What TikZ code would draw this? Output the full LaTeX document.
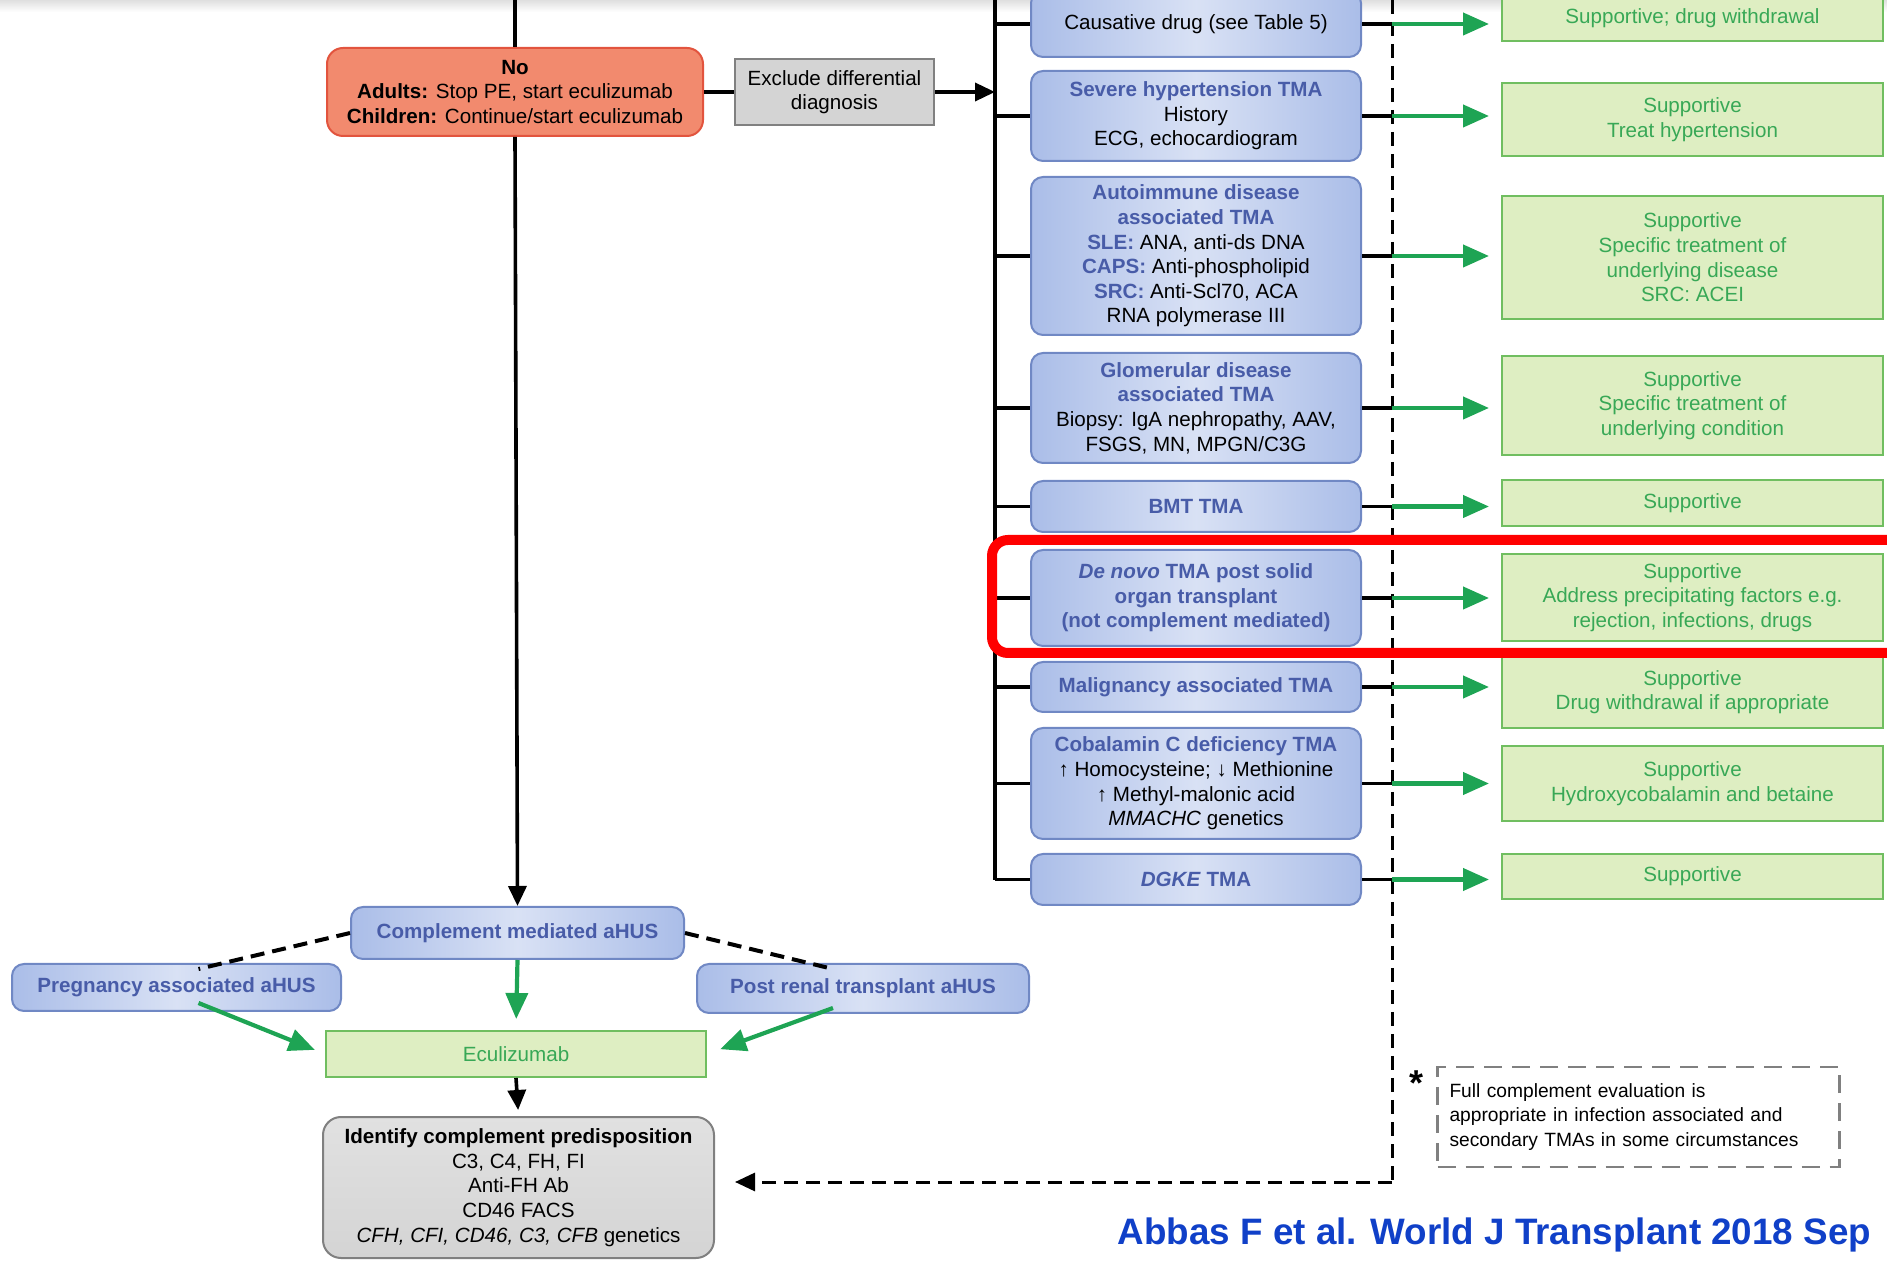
\documentclass[tikz,border=0pt]{standalone}
\usepackage{fontspec}
\setmainfont{Liberation Sans}
\usetikzlibrary{arrows.meta,calc}

\definecolor{bluefill}{RGB}{170,189,232}
\definecolor{bluedraw}{RGB}{112,136,196}
\definecolor{bluetext}{RGB}{72,92,168}
\definecolor{greenfill}{RGB}{222,238,194}
\definecolor{greendraw}{RGB}{112,190,96}
\definecolor{greentext}{RGB}{56,168,86}
\definecolor{arrowgreen}{RGB}{30,164,84}
\definecolor{nofill}{RGB}{242,138,110}
\definecolor{nodraw}{RGB}{226,84,62}
\definecolor{greyfill}{RGB}{212,212,212}
\definecolor{citeblue}{RGB}{16,64,200}

\newcommand\tmahead[1]{\textcolor{bluetext}{\textbf{#1}}}

\tikzset{every picture/.style={line width=0.75pt}}
\tikzset{
  boxfont/.style={font=\fontsize{10.3}{12.3}\selectfont},
  causebox/.style={boxfont, draw=bluedraw, line width=1pt, rounded corners=6pt,
    left color=bluefill, right color=bluefill, middle color=bluefill!45!white,
    align=center, inner sep=1pt, minimum width=165pt},
  treatbox/.style={boxfont, draw=greendraw, line width=1pt, fill=greenfill,
    text=greentext, align=center, inner sep=1pt, minimum width=190.5pt},
  blackline/.style={line width=1.8pt},
  blackarrow/.style={line width=1.8pt, -{Triangle[length=10pt,width=9pt]}},
  greenarrow/.style={draw=arrowgreen, line width=2.1pt, -{Triangle[length=13pt,width=11pt]}},
  dashline/.style={line width=1.5pt, dash pattern=on 7pt off 4pt},
}

\begin{document}
\begin{tikzpicture}[x=0.5pt,y=0.5pt,yscale=-1]
\useasboundingbox (0,0) rectangle (1887,1261);
\shade [top color=gray!25, bottom color=white] (0,0) rectangle (1887,12);

% bracket and dashed return line
\coordinate (btop) at (995,0);
\coordinate (bbot) at (995,880);
\coordinate (dtop) at (1392,0);
\coordinate (dbot) at (1392,1182);
\coordinate (maintop) at (515,0);

% No box
\node [boxfont, draw=nodraw, line width=1pt, rounded corners=8pt, fill=nofill,
  align=center, minimum width=188pt, minimum height=44pt, inner sep=1pt] (nobox) at (515,92)
  {\textbf{No}\\\textbf{Adults:} Stop PE, start eculizumab\\\textbf{Children:} Continue/start eculizumab};
% Exclude
\node [boxfont, draw=gray, line width=1pt, fill=greyfill, align=center,
  minimum width=99.5pt, minimum height=33pt, inner sep=1pt] (exclude) at (834.5,92)
  {Exclude differential\\diagnosis};

% Causes
\node [causebox, minimum height=33pt] (drug) at (1196,24) {Causative drug (see Table 5)};
\node [causebox, minimum height=45pt] (htn) at (1196,116)
  {\tmahead{Severe hypertension TMA}\\History\\ECG, echocardiogram};
\node [causebox, minimum height=79pt] (autoimm) at (1196,256)
  {\tmahead{Autoimmune disease}\\\tmahead{associated TMA}\\\tmahead{SLE:} ANA, anti-ds DNA\\
   \tmahead{CAPS:} Anti-phospholipid\\\tmahead{SRC:} Anti-Scl70, ACA\\RNA polymerase III};
\node [causebox, minimum height=55pt] (glom) at (1196,408)
  {\tmahead{Glomerular disease}\\\tmahead{associated TMA}\\Biopsy: IgA nephropathy, AAV,\\FSGS, MN, MPGN/C3G};
\node [causebox, minimum height=25.5pt] (bmt) at (1196,506.5) {\tmahead{BMT TMA}};
\node [causebox, minimum height=48pt] (denovo) at (1196,598)
  {\tmahead{\textit{De novo} TMA post solid}\\\tmahead{organ transplant}\\\tmahead{(not complement mediated)}};
\node [causebox, minimum height=25pt] (malig) at (1196,687) {\tmahead{Malignancy associated TMA}};
\node [causebox, minimum height=55.5pt] (cblc) at (1196,783.5)
  {\tmahead{Cobalamin C deficiency TMA}\\↑ Homocysteine; ↓ Methionine\\↑ Methyl-malonic acid\\\textit{MMACHC} genetics};
\node [causebox, minimum height=25.5pt] (dgke) at (1196,879.5) {\tmahead{\textit{DGKE} TMA}};

% Treatments
\node [treatbox, minimum height=23pt] (txdrug) at (1692.5,18) {Supportive; drug withdrawal};
\node [treatbox, minimum height=36.5pt] (txhtn) at (1692.5,119.5) {Supportive\\Treat hypertension};
\node [treatbox, minimum height=61.5pt] (txautoimm) at (1692.5,257.5)
  {Supportive\\Specific treatment of\\underlying disease\\SRC: ACEI};
\node [treatbox, minimum height=49.5pt] (txglom) at (1692.5,405.5)
  {Supportive\\Specific treatment of\\underlying condition};
\node [treatbox, minimum height=23pt] (txbmt) at (1692.5,503) {Supportive};
\node [treatbox, minimum height=43.5pt] (txdenovo) at (1692.5,597.5)
  {Supportive\\Address precipitating factors e.g.\\rejection, infections, drugs};
\node [treatbox, minimum height=36pt] (txmalig) at (1692.5,692) {Supportive\\Drug withdrawal if appropriate};
\node [treatbox, minimum height=37.5pt] (txcblc) at (1692.5,783.5) {Supportive\\Hydroxycobalamin and betaine};
\node [treatbox, minimum height=22.5pt] (txdgke) at (1692.5,876.5) {Supportive};

% aHUS part
\node [causebox, minimum width=166.5pt, minimum height=26pt] (comp) at (517.5,933) {\tmahead{Complement mediated aHUS}};
\node [causebox, minimum width=164.5pt, minimum height=23.5pt] (preg) at (176.5,987.5) {\tmahead{Pregnancy associated aHUS}};
\node [causebox, minimum width=166pt, minimum height=24.5pt] (postrt) at (863,988.5) {\tmahead{Post renal transplant aHUS}};
\node [treatbox, minimum width=190pt, minimum height=23pt] (ecu) at (516,1054) {Eculizumab};
\node [boxfont, draw=gray, line width=1pt, rounded corners=9pt,
  top color=greyfill!70!white, bottom color=greyfill, align=center,
  minimum width=195.5pt, minimum height=70.5pt, inner sep=1pt] (ident) at (518.5,1187.5)
  {\textbf{Identify complement predisposition}\\C3, C4, FH, FI\\Anti-FH Ab\\CD46 FACS\\
   \textit{CFH, CFI, CD46, C3, CFB} genetics};

% Footnote
\node [font=\fontsize{18}{18}\selectfont\bfseries] (star) at (1416,1083) {*};
\node [font=\fontsize{9.6}{12.2}\selectfont, draw=gray, line width=1.1pt,
  dash pattern=on 9pt off 5pt, align=left, text width=189pt, inner sep=6pt,
  minimum height=50pt] (note) at (1638.5,1117)
  {Full complement evaluation is\\appropriate in infection associated and\\secondary TMAs in some circumstances};

% Citation
\node [anchor=west, font=\fontsize{18.4}{19}\selectfont\bfseries, text=citeblue, inner sep=0pt] (cite) at (1117,1235)
  {Abbas F et al. World J Transplant 2018 Sep};

% Connectors
\draw [blackline] (maintop) -- (nobox.north);
\draw [blackarrow] (nobox.south) -- (comp.north);
\draw [blackline] (nobox.east) -- (exclude.west);
\draw [blackarrow] (exclude.east) -- (exclude.east -| btop);
\draw [blackline] (btop) -- (bbot);
\draw [dashline] (dtop) -- (dbot);
\draw [dashline, -{Triangle[length=10pt,width=9pt]}, shorten >=10pt] (dbot) -- (ident.east |- dbot);

\foreach \n in {drug,htn,autoimm,glom,bmt,denovo,malig,cblc,dgke}{
  \draw [blackline] (\n.west -| btop) -- (\n.west);
  \draw [blackline] (\n.east) -- (\n.east -| dtop);
  \draw [greenarrow, shorten >=6pt] (\n.east -| dtop) -- (\n.east -| tx\n.west);
}

\draw [dashline, line width=2pt] (comp.west) -- ([xshift=11pt,yshift=3pt]preg.north);
\draw [dashline, line width=2pt] (comp.east) -- ([xshift=-15pt,yshift=3pt]postrt.north);
\draw [greenarrow, shorten >=5.5pt] (comp.south) -- (ecu.north);
\draw [greenarrow, shorten >=5.5pt] ([xshift=11pt,yshift=-4.5pt]preg.south) -- (ecu.west);
\draw [greenarrow, shorten >=7pt] ([xshift=-15pt,yshift=-3pt]postrt.south) -- (ecu.east);
\draw [blackarrow, shorten >=3pt] (ecu.south) -- (ident.north);

% highlight
\draw [red, line width=5pt, rounded corners=8pt] (992,540) rectangle (1910,653);
\end{tikzpicture}
\end{document}
